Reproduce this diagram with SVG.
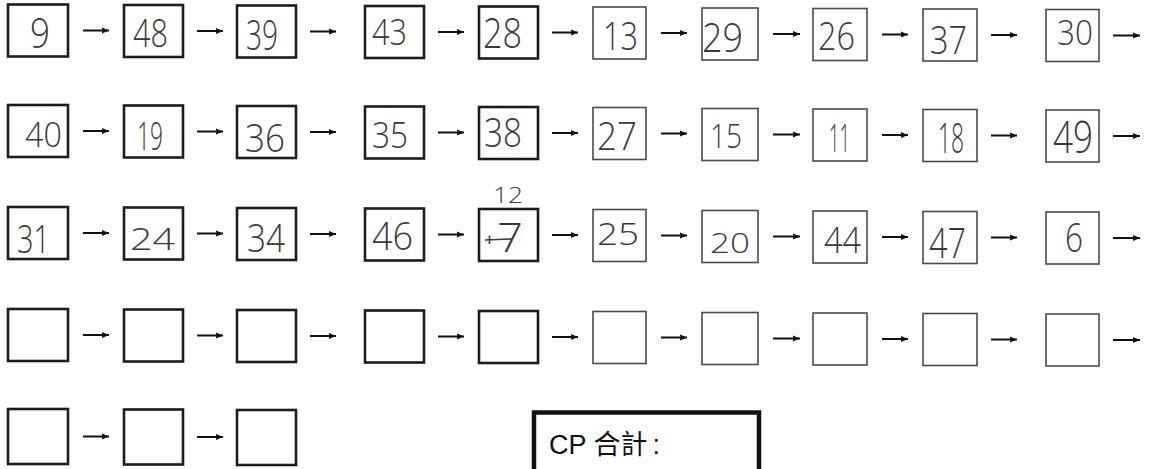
<svg xmlns="http://www.w3.org/2000/svg" width="1149" height="469" viewBox="0 0 1149 469">
<defs>
<style>
.bk{fill:none;stroke:#1c1c1c;stroke-width:2.6}
.bt{fill:none;stroke:#4a4a4a;stroke-width:1.6}
.hw{font-family:"Open Sans","Liberation Sans",sans-serif;font-weight:300;fill:#3a3a3a}
.ar{stroke:#111;stroke-width:2;fill:none;marker-end:url(#ah)}
.cp{font-family:"Liberation Sans","Noto Sans CJK TC",sans-serif;font-size:27px;fill:#111}
</style>
<marker id="ah" markerUnits="userSpaceOnUse" markerWidth="9" markerHeight="8" refX="7.5" refY="3.5" orient="auto">
<path d="M0,0.3 L7.5,3.5 L0,6.7 L1.2,3.5 Z" fill="#111"/>
</marker>
</defs>
<rect width="1149" height="469" fill="#fff"/>

<g id="connectors">
<line class="ar" x1="83" y1="30.5" x2="109" y2="30.5"/>
<line class="ar" x1="197" y1="31" x2="223" y2="31"/>
<line class="ar" x1="310" y1="31.5" x2="336" y2="31.5"/>
<line class="ar" x1="438" y1="32" x2="464" y2="32"/>
<line class="ar" x1="552" y1="32.5" x2="578" y2="32.5"/>
<line class="ar" x1="661" y1="33" x2="687" y2="33"/>
<line class="ar" x1="773" y1="34" x2="800" y2="34"/>
<line class="ar" x1="882" y1="34.5" x2="908" y2="34.5"/>
<line class="ar" x1="991" y1="35" x2="1017" y2="35"/>
<line class="ar" x1="1113" y1="35.5" x2="1140" y2="35.5"/>

<line class="ar" x1="83" y1="131" x2="109" y2="131"/>
<line class="ar" x1="197" y1="131.5" x2="223" y2="131.5"/>
<line class="ar" x1="310" y1="132" x2="336" y2="132"/>
<line class="ar" x1="438" y1="132.5" x2="464" y2="132.5"/>
<line class="ar" x1="552" y1="133" x2="578" y2="133"/>
<line class="ar" x1="661" y1="133.5" x2="687" y2="133.5"/>
<line class="ar" x1="773" y1="134.5" x2="800" y2="134.5"/>
<line class="ar" x1="882" y1="135" x2="908" y2="135"/>
<line class="ar" x1="991" y1="135.5" x2="1017" y2="135.5"/>
<line class="ar" x1="1113" y1="136" x2="1140" y2="136"/>

<line class="ar" x1="83" y1="233" x2="109" y2="233"/>
<line class="ar" x1="197" y1="233.5" x2="223" y2="233.5"/>
<line class="ar" x1="310" y1="234" x2="336" y2="234"/>
<line class="ar" x1="438" y1="234.5" x2="464" y2="234.5"/>
<line class="ar" x1="552" y1="235" x2="578" y2="235"/>
<line class="ar" x1="661" y1="235.5" x2="687" y2="235.5"/>
<line class="ar" x1="773" y1="236.5" x2="800" y2="236.5"/>
<line class="ar" x1="882" y1="237" x2="908" y2="237"/>
<line class="ar" x1="991" y1="237.5" x2="1017" y2="237.5"/>
<line class="ar" x1="1113" y1="238" x2="1140" y2="238"/>

<line class="ar" x1="83" y1="335" x2="109" y2="335"/>
<line class="ar" x1="197" y1="335.5" x2="223" y2="335.5"/>
<line class="ar" x1="310" y1="336" x2="336" y2="336"/>
<line class="ar" x1="438" y1="336.5" x2="464" y2="336.5"/>
<line class="ar" x1="552" y1="337" x2="578" y2="337"/>
<line class="ar" x1="661" y1="337.5" x2="687" y2="337.5"/>
<line class="ar" x1="773" y1="338.5" x2="800" y2="338.5"/>
<line class="ar" x1="882" y1="339" x2="908" y2="339"/>
<line class="ar" x1="991" y1="339.5" x2="1017" y2="339.5"/>
<line class="ar" x1="1113" y1="340" x2="1140" y2="340"/>

<line class="ar" x1="83" y1="436.5" x2="109" y2="436.5"/>
<line class="ar" x1="197" y1="437" x2="223" y2="437"/>
</g>

<!-- Row 1 -->
<g id="n1-1"><rect class="bk" x="8" y="4.5" width="60" height="52"/><text class="hw" x="30" y="48" font-size="43" textLength="20" lengthAdjust="spacingAndGlyphs">9</text></g>
<g id="n1-2"><rect class="bk" x="124" y="5" width="59" height="52"/><text class="hw" x="133" y="47" font-size="38" textLength="35" lengthAdjust="spacingAndGlyphs">48</text></g>
<g id="n1-3"><rect class="bk" x="237" y="5.5" width="59" height="52"/><text class="hw" x="246" y="50" font-size="42" textLength="32" lengthAdjust="spacingAndGlyphs">39</text></g>
<g id="n1-4"><rect class="bk" x="365" y="6" width="59" height="52"/><text class="hw" x="372" y="45" font-size="36" textLength="35" lengthAdjust="spacingAndGlyphs">43</text></g>
<g id="n1-5"><rect class="bk" x="479" y="6.5" width="59" height="52"/><text class="hw" x="483" y="48" font-size="42" textLength="39" lengthAdjust="spacingAndGlyphs">28</text></g>
<g id="n1-6"><rect class="bt" x="593" y="7" width="53" height="52"/><text class="hw" x="603" y="50" font-size="39" textLength="35" lengthAdjust="spacingAndGlyphs">13</text></g>
<g id="n1-7"><rect class="bt" x="702" y="8" width="56" height="52"/><text class="hw" x="702" y="52" font-size="40" textLength="41" lengthAdjust="spacingAndGlyphs">29</text></g>
<g id="n1-8"><rect class="bt" x="813" y="8.5" width="54" height="52"/><text class="hw" x="818" y="50" font-size="38" textLength="37" lengthAdjust="spacingAndGlyphs">26</text></g>
<g id="n1-9"><rect class="bt" x="923" y="9" width="54" height="52"/><text class="hw" x="930" y="54" font-size="39" textLength="37" lengthAdjust="spacingAndGlyphs">37</text></g>
<g id="n1-10"><rect class="bt" x="1046" y="9.5" width="53" height="52"/><text class="hw" x="1057" y="45" font-size="34" textLength="36" lengthAdjust="spacingAndGlyphs">30</text></g>

<!-- Row 2 -->
<g id="n2-1"><rect class="bk" x="8" y="105" width="60" height="52"/><text class="hw" x="25" y="147" font-size="35" textLength="37" lengthAdjust="spacingAndGlyphs">40</text></g>
<g id="n2-2"><rect class="bk" x="124" y="105.5" width="59" height="52"/><text class="hw" x="137" y="150" font-size="39" textLength="26" lengthAdjust="spacingAndGlyphs">19</text></g>
<g id="n2-3"><rect class="bk" x="237" y="106" width="59" height="52"/><text class="hw" x="245" y="152" font-size="38" textLength="40" lengthAdjust="spacingAndGlyphs">36</text></g>
<g id="n2-4"><rect class="bk" x="365" y="106.5" width="59" height="52"/><text class="hw" x="372" y="148" font-size="36" textLength="36" lengthAdjust="spacingAndGlyphs">35</text></g>
<g id="n2-5"><rect class="bk" x="479" y="107" width="59" height="52"/><text class="hw" x="484" y="147" font-size="40" textLength="38" lengthAdjust="spacingAndGlyphs">38</text></g>
<g id="n2-6"><rect class="bt" x="593" y="107.5" width="53" height="52"/><text class="hw" x="597" y="150" font-size="39" textLength="40" lengthAdjust="spacingAndGlyphs">27</text></g>
<g id="n2-7"><rect class="bt" x="702" y="108.5" width="56" height="52"/><text class="hw" x="710" y="148" font-size="33" textLength="32" lengthAdjust="spacingAndGlyphs">15</text></g>
<g id="n2-8"><rect class="bt" x="813" y="109" width="54" height="52"/><text class="hw" x="829" y="152" font-size="38" textLength="21" lengthAdjust="spacingAndGlyphs">11</text></g>
<g id="n2-9"><rect class="bt" x="923" y="109.5" width="54" height="52"/><text class="hw" x="938" y="153" font-size="42" textLength="26" lengthAdjust="spacingAndGlyphs">18</text></g>
<g id="n2-10"><rect class="bt" x="1046" y="110" width="53" height="52"/><text class="hw" x="1053" y="153" font-size="44" textLength="40" lengthAdjust="spacingAndGlyphs">49</text></g>

<!-- Row 3 -->
<g id="n3-1"><rect class="bk" x="8" y="207" width="60" height="52"/><text class="hw" x="17" y="253" font-size="39" textLength="33" lengthAdjust="spacingAndGlyphs">31</text></g>
<g id="n3-2"><rect class="bk" x="124" y="207.5" width="59" height="52"/><text class="hw" x="130" y="250" font-size="31" textLength="45" lengthAdjust="spacingAndGlyphs">24</text></g>
<g id="n3-3"><rect class="bk" x="237" y="208" width="59" height="52"/><text class="hw" x="247" y="252" font-size="38" textLength="38" lengthAdjust="spacingAndGlyphs">34</text></g>
<g id="n3-4"><rect class="bk" x="365" y="208.5" width="59" height="52"/><text class="hw" x="372" y="250" font-size="39" textLength="41" lengthAdjust="spacingAndGlyphs">46</text></g>
<g id="n3-5"><rect class="bk" x="479" y="209" width="59" height="52"/><text class="hw" x="497" y="252" font-size="40" textLength="26" lengthAdjust="spacingAndGlyphs">7</text><path d="M485,240 L512,239 M489.5,235.5 L489.5,244" stroke="#3a3a3a" stroke-width="1.6" fill="none"/><text class="hw" x="493" y="203" font-size="22" textLength="30" lengthAdjust="spacingAndGlyphs">12</text></g>
<g id="n3-6"><rect class="bt" x="593" y="209.5" width="53" height="52"/><text class="hw" x="597" y="245" font-size="31" textLength="42" lengthAdjust="spacingAndGlyphs">25</text></g>
<g id="n3-7"><rect class="bt" x="702" y="210.5" width="56" height="52"/><text class="hw" x="710" y="253" font-size="28" textLength="40" lengthAdjust="spacingAndGlyphs">20</text></g>
<g id="n3-8"><rect class="bt" x="813" y="211" width="54" height="52"/><text class="hw" x="824" y="253" font-size="36" textLength="37" lengthAdjust="spacingAndGlyphs">44</text></g>
<g id="n3-9"><rect class="bt" x="923" y="211.5" width="54" height="52"/><text class="hw" x="929" y="258" font-size="42" textLength="37" lengthAdjust="spacingAndGlyphs">47</text></g>
<g id="n3-10"><rect class="bt" x="1046" y="212" width="53" height="52"/><text class="hw" x="1065" y="252" font-size="40" textLength="18" lengthAdjust="spacingAndGlyphs">6</text></g>

<!-- Row 4 -->
<g id="n4-1"><rect class="bk" x="8" y="309" width="60" height="52"/></g>
<g id="n4-2"><rect class="bk" x="124" y="309.5" width="59" height="52"/></g>
<g id="n4-3"><rect class="bk" x="237" y="310" width="59" height="52"/></g>
<g id="n4-4"><rect class="bk" x="365" y="310.5" width="59" height="52"/></g>
<g id="n4-5"><rect class="bk" x="479" y="311" width="59" height="52"/></g>
<g id="n4-6"><rect class="bt" x="593" y="311.5" width="53" height="52"/></g>
<g id="n4-7"><rect class="bt" x="702" y="312.5" width="56" height="52"/></g>
<g id="n4-8"><rect class="bt" x="813" y="313" width="54" height="52"/></g>
<g id="n4-9"><rect class="bt" x="923" y="313.5" width="54" height="52"/></g>
<g id="n4-10"><rect class="bt" x="1046" y="314" width="53" height="52"/></g>

<!-- Row 5 -->
<g id="n5-1"><rect class="bk" x="8" y="409" width="60" height="55"/></g>
<g id="n5-2"><rect class="bk" x="124" y="409.5" width="59" height="55"/></g>
<g id="n5-3"><rect class="bk" x="237" y="410" width="59" height="55"/></g>

<g id="cp-total">
<rect x="534" y="412.5" width="225" height="80" fill="none" stroke="#111" stroke-width="4.5"/>
<text class="cp" x="549" y="454">CP 合計<tspan dx="5">:</tspan></text>
</g>
</svg>
